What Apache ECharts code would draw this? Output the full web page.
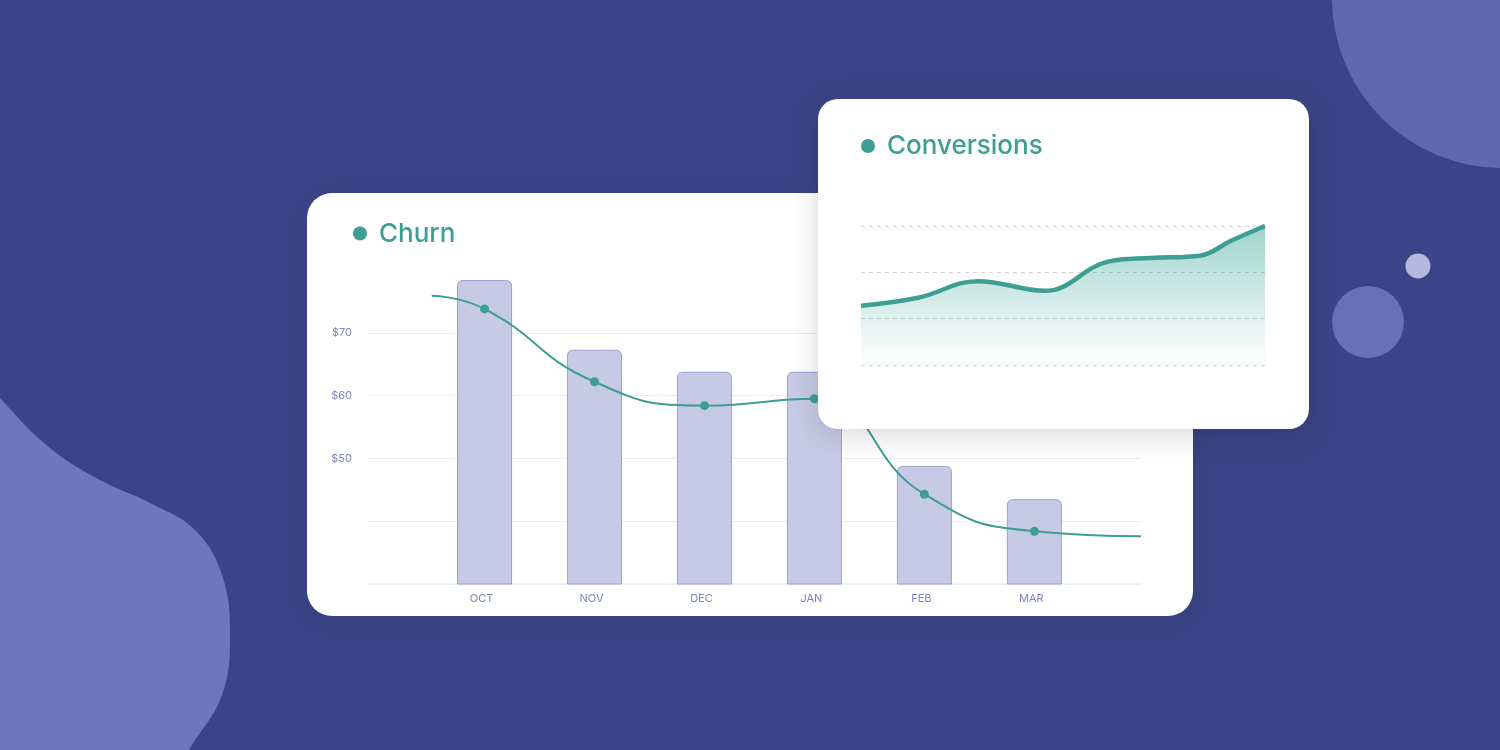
<!DOCTYPE html>
<html><head><meta charset="utf-8">
<script src="https://cdn.jsdelivr.net/npm/echarts@6/dist/echarts.min.js"></script>
<style>html,body{margin:0;padding:0;background:#3b4487;}#c{width:1500px;height:750px;}</style>
</head><body><div id="c"></div>
<script>
// ---- Churn data ----
const months = ['OCT', 'NOV', 'DEC', 'JAN', 'FEB', 'MAR'];
const churnBars = [78.4, 67.3, 63.8, 63.8, 48.8, 43.5];
const churnLineX = [-0.48, 0, 1, 2, 3, 4, 5, 5.97];
const churnLineY = [75.9, 73.8, 62.2, 58.4, 59.5, 44.3, 38.4, 37.6];
const churnTicks = [30, 40, 50, 60, 70, 80];
const churnTickLabels = ['', '', '$50', '$60', '$70', ''];
// ---- Conversions data ----
const convX = [0, 57, 117, 184, 247, 290, 339, 370, 404];
const convY = [1.28, 1.45, 1.81, 1.60, 2.23, 2.31, 2.36, 2.68, 3.0];

const teal = '#3d9e94';
const labelColor = '#7d84c4';
const font = 'Inter, "Noto Sans", sans-serif';

const chart = echarts.init(document.getElementById('c'));
chart.setOption({
  backgroundColor: '#3b4487',
  animation: false,
  graphic: [
    {type:'circle', zlevel:0, shape:{cx:1502, cy:-2, r:170}, style:{fill:'#6169ae'}},
    {type:'circle', zlevel:0, shape:{cx:1418, cy:266, r:12.5}, style:{fill:'#b6b9df'}},
    {type:'circle', zlevel:0, shape:{cx:1368, cy:322, r:36}, style:{fill:'#6870b6'}},
    {type:'polygon', zlevel:0, shape:{smooth:0.4, points:[[-60,330],[0,398],[50,448],[100,480],[150,503],[195,530],[222,575],[230,635],[222,695],[189,750],[150,820],[-60,820]]}, style:{fill:'#6f77bc'}},
    {type:'rect', zlevel:0, shape:{x:307, y:193, width:886, height:423, r:25}, style:{fill:'#ffffff', shadowBlur:20, shadowColor:'rgba(0,0,0,0.08)', shadowOffsetY:4}},
    {type:'circle', zlevel:0, shape:{cx:360, cy:233.5, r:7}, style:{fill:teal}},
    {type:'text', zlevel:0, x:379, y:234, style:{text:'Churn', fill:teal, font:'500 26px ' + font, textVerticalAlign:'middle', verticalAlign:'middle'}},
    {type:'rect', zlevel:2, shape:{x:818, y:99, width:491, height:330, r:20}, style:{fill:'#ffffff', shadowBlur:30, shadowColor:'rgba(0,0,0,0.16)', shadowOffsetY:6}},
    {type:'circle', zlevel:2, shape:{cx:868, cy:146, r:7}, style:{fill:teal}},
    {type:'text', zlevel:2, x:887, y:146, style:{text:'Conversions', fill:teal, font:'500 26px ' + font, textVerticalAlign:'middle', verticalAlign:'middle'}}
  ],
  grid: [
    {left:368, top:270, width:773, height:314},
    {left:861, top:226, width:404, height:139}
  ],
  xAxis: [
    {type:'value', gridIndex:0, zlevel:1, min:-1.06, max:5.97,
     axisLine:{show:true, lineStyle:{color:'#eeeef6', width:1.5}},
     axisTick:{show:false}, splitLine:{show:false},
     axisLabel:{customValues:[0,1,2,3,4,5], formatter:(v)=>months[Math.round(v)] || '', color:labelColor, fontSize:11, fontFamily:font, margin:9, padding:[0,6,0,0]}},
    {type:'value', gridIndex:1, zlevel:3, min:0, max:404, show:false}
  ],
  yAxis: [
    {type:'value', gridIndex:0, zlevel:1, min:churnTicks[0], max:churnTicks[churnTicks.length-1], interval:10,
     axisLine:{show:false}, axisTick:{show:false},
     splitLine:{showMaxLine:false, lineStyle:{color:'#ececf6', width:1}},
     axisLabel:{formatter:(v)=> churnTickLabels[churnTicks.indexOf(v)] || '', color:labelColor, fontSize:11, fontFamily:font, margin:16}},
    {type:'value', gridIndex:1, zlevel:3, min:0, max:3, interval:1,
     axisLine:{show:false}, axisTick:{show:false}, axisLabel:{show:false},
     splitLine:{lineStyle:{color:'#d4d4d4', type:[4,4], width:1}}}
  ],
  series: [
    {type:'bar', xAxisIndex:0, yAxisIndex:0, zlevel:1, barWidth:55,
     data: months.map((m,i)=>[i, churnBars[i]]),
     itemStyle:{color:'#c6cae6', borderColor:'#9ba1d3', borderWidth:1, borderRadius:[5,5,0,0]}},
    {type:'line', xAxisIndex:0, yAxisIndex:0, zlevel:1, smooth:0.5,
     data: churnLineX.map((x,i)=>({value:[x, churnLineY[i]], symbolSize: (i===0 || i===churnLineX.length-1) ? 0 : 9})),
     symbol:'circle', showSymbol:true,
     lineStyle:{color:teal, width:2}, itemStyle:{color:teal}},
    {type:'line', xAxisIndex:1, yAxisIndex:1, zlevel:3, smooth:0.4, symbol:'none',
     data: convX.map((x,i)=>[x, convY[i]]),
     lineStyle:{color:teal, width:4.5},
     areaStyle:{opacity:1, color:new echarts.graphic.LinearGradient(0,0,0,1,[{offset:0,color:'rgba(61,168,153,0.5)'},{offset:0.5,color:'rgba(61,168,153,0.24)'},{offset:1,color:'rgba(61,168,153,0)'}])}}
  ]
});
</script>
</body></html>
